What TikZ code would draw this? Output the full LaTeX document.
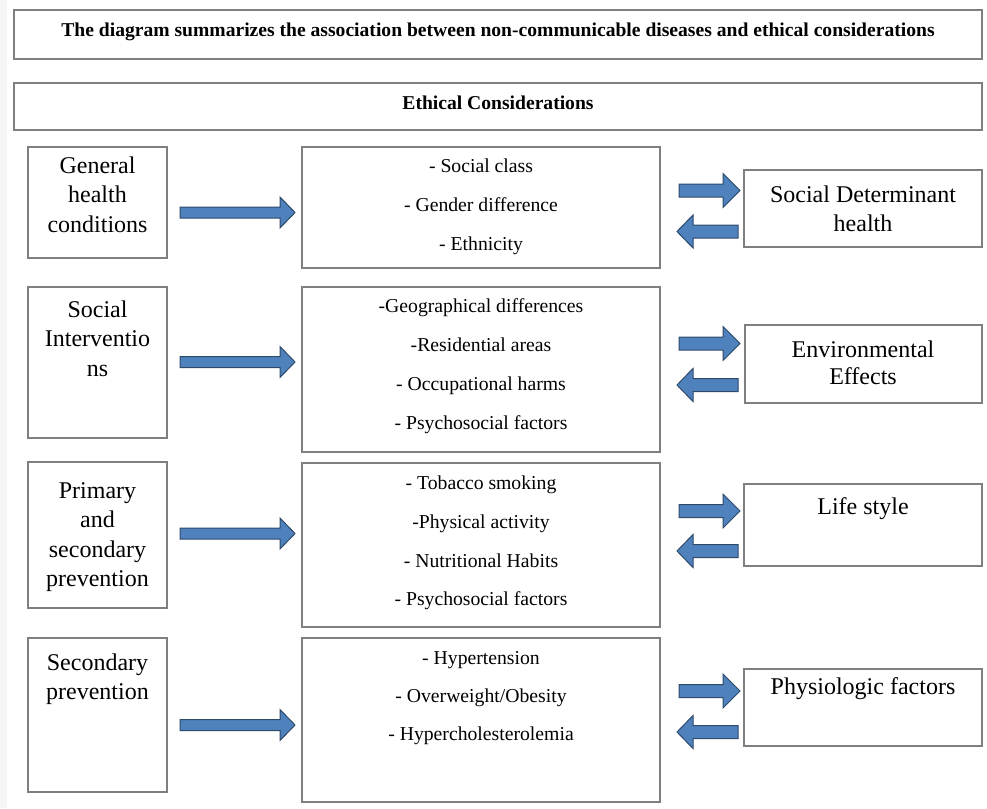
\documentclass[tikz,border=0pt]{standalone}
\usepackage{fontspec}
\setmainfont{Liberation Serif}
\definecolor{boxgray}{HTML}{7F7F7F}
\definecolor{arrowblue}{HTML}{4F81BD}
\definecolor{arrowedge}{HTML}{2E4A6B}
\newcommand\boxnode[5]{\node[boxst, minimum width={(#4-#2)*1pt}, minimum height={(#5-#3)*1pt}] (#1) at ({(#2+#4)/2},{(#3+#5)/2}) {};}
\newcommand\rblock[6]{\draw[blockarrow] (#1,#3-#4) -- (#2-#6,#3-#4) -- (#2-#6,#3-#5) -- (#2,#3) -- (#2-#6,#3+#5) -- (#2-#6,#3+#4) -- (#1,#3+#4) -- cycle;}
\newcommand\lblock[6]{\draw[blockarrow] (#2,#3-#4) -- (#1+#6,#3-#4) -- (#1+#6,#3-#5) -- (#1,#3) -- (#1+#6,#3+#5) -- (#1+#6,#3+#4) -- (#2,#3+#4) -- cycle;}
\begin{document}
\begin{tikzpicture}[x=1pt,y=-1pt,
 boxst/.style={draw=boxgray, line width=1.3pt, fill=white, inner sep=0pt},
 bigtxt/.style={font=\fontsize{24}{28}\selectfont, inner sep=0pt, anchor=mid, yshift=-4pt},
 midtxt/.style={font=\fontsize{19.7}{23}\selectfont, inner sep=0pt, anchor=mid, yshift=-4pt},
 headtxt/.style={font=\bfseries\fontsize{19.6}{23}\selectfont, inner sep=0pt, anchor=mid, yshift=-3.5pt},
 blockarrow/.style={fill=arrowblue, draw=arrowedge, line width=1pt, line join=miter}]
\useasboundingbox (0,0) rectangle (987,808);
\fill[white] (0,0) rectangle (987,808);
\fill[gray!7] (0,0) rectangle (7,808);

% boxes
\boxnode{T}{14}{10}{982}{59}
\boxnode{E}{14}{83}{982}{130}
\boxnode{L1}{28}{147}{167}{258}
\boxnode{M1}{302}{147}{660}{268}
\boxnode{R1}{744}{170}{982}{247}
\boxnode{L2}{28}{287}{167}{438}
\boxnode{M2}{302}{287}{660}{452}
\boxnode{R2}{745}{325}{982}{403}
\boxnode{L3}{28}{462}{167}{608}
\boxnode{M3}{302}{463}{660}{627}
\boxnode{R3}{744}{484}{982}{566}
\boxnode{L4}{28}{638}{167}{792}
\boxnode{M4}{302}{638}{660}{802}
\boxnode{R4}{744}{669}{982}{746}

% headings
\node[headtxt] (t1) at (498,31) {The diagram summarizes the association between non-communicable diseases and ethical considerations};
\node[headtxt] (e1) at (498,104) {Ethical Considerations};

% left texts
\node[bigtxt] (l1a) at (97.5,167) {General};
\node[bigtxt] (l1b) at (97.5,196.5) {health};
\node[bigtxt] (l1c) at (97.5,226) {conditions};
\node[bigtxt] (l2a) at (97.5,311) {Social};
\node[bigtxt] (l2b) at (97.5,340.5) {Interventio};
\node[bigtxt] (l2c) at (97.5,370) {ns};
\node[bigtxt] (l3a) at (97.5,492) {Primary};
\node[bigtxt] (l3b) at (97.5,521.5) {and};
\node[bigtxt] (l3c) at (97.5,551) {secondary};
\node[bigtxt] (l3d) at (97.5,580.5) {prevention};
\node[bigtxt] (l4a) at (97.5,664) {Secondary};
\node[bigtxt] (l4b) at (97.5,693.5) {prevention};

% middle texts
\node[midtxt] (m1a) at (481,166) {- Social class};
\node[midtxt] (m1b) at (481,205) {- Gender difference};
\node[midtxt] (m1c) at (481,244) {- Ethnicity};
\node[midtxt] (m2a) at (481,306) {-Geographical differences};
\node[midtxt] (m2b) at (481,345) {-Residential areas};
\node[midtxt] (m2c) at (481,384) {- Occupational harms};
\node[midtxt] (m2d) at (481,423) {- Psychosocial factors};
\node[midtxt] (m3a) at (481,483) {- Tobacco smoking};
\node[midtxt] (m3b) at (481,522) {-Physical activity};
\node[midtxt] (m3c) at (481,561) {- Nutritional Habits};
\node[midtxt] (m3d) at (481,599) {- Psychosocial factors};
\node[midtxt] (m4a) at (481,658) {- Hypertension};
\node[midtxt] (m4b) at (481,696) {- Overweight/Obesity};
\node[midtxt] (m4c) at (481,734) {- Hypercholesterolemia};

% right texts
\node[bigtxt] (r1a) at (863,196.5) {Social Determinant};
\node[bigtxt] (r1b) at (863,225) {health};
\node[bigtxt] (r2a) at (863,351.5) {Environmental};
\node[bigtxt] (r2b) at (863,378) {Effects};
\node[bigtxt] (r3a) at (863,508) {Life style};
\node[bigtxt] (r4a) at (863,688) {Physiologic factors};

% block arrows left -> middle
\rblock{180}{295}{212.5}{5.5}{15.5}{15}
\rblock{180}{295}{362}{5.5}{15.5}{15}
\rblock{180}{295}{533.5}{5.5}{15.5}{15}
\rblock{180}{295}{725}{5.5}{15.5}{15}

% double block arrows middle <-> right
\rblock{679}{740}{190.5}{6.5}{17}{17}
\lblock{677}{738}{231.5}{6.5}{16.5}{16}
\rblock{679}{740}{343.5}{6.5}{17}{17}
\lblock{677}{738}{385}{6.5}{16.5}{16}
\rblock{679}{740}{511}{6.5}{17}{17}
\lblock{677}{738}{551}{6.5}{16.5}{16}
\rblock{679}{740}{691}{6.5}{17}{17}
\lblock{677}{738}{732}{6.5}{16.5}{16}
\end{tikzpicture}
\end{document}
